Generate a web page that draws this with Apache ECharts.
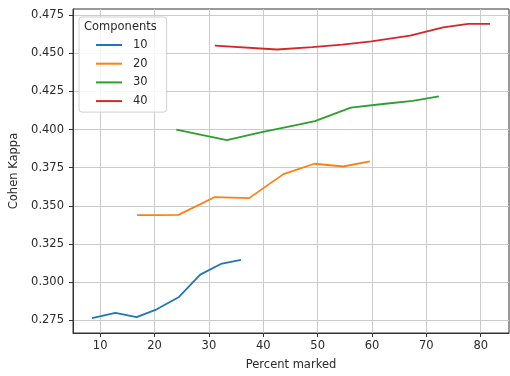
<!DOCTYPE html>
<html>
<head>
<meta charset="utf-8">
<script src="https://cdn.jsdelivr.net/npm/echarts@6/dist/echarts.min.js"></script>
<style>
  html, body { margin: 0; padding: 0; background: #fff; }
  #chart { width: 510px; height: 376px; }
</style>
</head>
<body>
<div id="chart"></div>
<script>
// Kappa vs. share of marked items, one line per component count
const componentNames = ['10', '20', '30', '40'];
const lineColors = ['#1f77b4', '#ff7f0e', '#2ca02c', '#d62728'];

const pct10 = [8.5, 12.8, 16.7, 20.4, 24.5, 28.4, 32.2, 35.9];
const kappa10 = [0.2765, 0.2800, 0.2772, 0.2823, 0.2904, 0.3050, 0.3120, 0.3146];

const pct20 = [16.8, 20.5, 24.4, 31.1, 37.4, 43.7, 49.4, 54.7, 59.6];
const kappa20 = [0.3440, 0.3440, 0.3441, 0.3558, 0.3551, 0.3708, 0.3776, 0.3758, 0.3792];

const pct30 = [24.0, 33.3, 39.5, 45.8, 49.5, 56.1, 62.0, 67.5, 72.3];
const kappa30 = [0.4000, 0.3931, 0.3981, 0.4027, 0.4055, 0.4143, 0.4167, 0.4188, 0.4217];

const pct40 = [31.1, 42.5, 49.0, 54.5, 59.9, 67.0, 73.1, 77.7, 81.7];
const kappa40 = [0.4549, 0.4524, 0.4540, 0.4556, 0.4577, 0.4614, 0.4668, 0.4692, 0.4692];

const xTicks = [10, 20, 30, 40, 50, 60, 70, 80];
const yTicks = [0.275, 0.300, 0.325, 0.350, 0.375, 0.400, 0.425, 0.450, 0.475];

const pctSets = [pct10, pct20, pct30, pct40];
const kappaSets = [kappa10, kappa20, kappa30, kappa40];

const font = 'DejaVu Sans';
const textColor = '#2a2a2a';

const series = componentNames.map((name, i) => ({
  name: name,
  type: 'line',
  data: pctSets[i].map((x, j) => [x, kappaSets[i][j]]),
  showSymbol: false,
  symbol: 'none',
  smooth: false,
  lineStyle: { color: lineColors[i], width: 1.8 },
  itemStyle: { color: lineColors[i] },
  emphasis: { disabled: true },
  z: 3
}));

const chart = echarts.init(document.getElementById('chart'), null, { renderer: 'canvas' });
chart.setOption({
  animation: false,
  backgroundColor: '#fff',
  textStyle: { fontFamily: font },
  grid: {
    left: 73, top: 9, right: 1, bottom: 40,
    show: true, borderColor: '#333', borderWidth: 1, backgroundColor: 'transparent'
  },
  title: {
    text: 'Components',
    left: 84, top: 21,
    textStyle: { fontFamily: font, fontSize: 11.5, fontWeight: 'normal', color: textColor },
    padding: 0,
    z: 10
  },
  legend: {
    orient: 'vertical',
    left: 79, top: 17,
    padding: [21, 19, 4, 17],
    itemWidth: 26, itemHeight: 2, itemGap: 4.7,
    icon: 'rect',
    backgroundColor: 'rgba(255,255,255,0.85)',
    borderColor: '#d0d0d0', borderWidth: 1, borderRadius: 3,
    textStyle: { fontFamily: font, fontSize: 11.5, color: textColor, lineHeight: 14, padding: [0, 0, 0, 6] },
    data: componentNames,
    selectedMode: false,
    z: 5
  },
  xAxis: {
    type: 'value',
    min: 5.0, max: 85.2,
    name: 'Percent marked',
    nameLocation: 'middle', nameGap: 26,
    nameTextStyle: { fontFamily: font, fontSize: 11.5, color: textColor },
    axisLine: { show: true, onZero: false, lineStyle: { color: '#333', width: 1 } },
    axisTick: { show: true, length: 4, customValues: xTicks, lineStyle: { color: '#333' } },
    axisLabel: { customValues: xTicks, margin: 7, fontFamily: font, fontSize: 11.5, color: textColor },
    splitLine: { show: true, lineStyle: { color: '#cbcbcb', width: 1 } }
  },
  yAxis: {
    type: 'value',
    min: 0.2668, max: 0.4789,
    name: 'Cohen Kappa',
    nameLocation: 'middle', nameGap: 51,
    nameTextStyle: { fontFamily: font, fontSize: 11.5, color: textColor },
    axisLine: { show: true, onZero: false, lineStyle: { color: '#333', width: 1 } },
    axisTick: { show: true, length: 4, customValues: yTicks, lineStyle: { color: '#333' } },
    axisLabel: {
      customValues: yTicks, margin: 9, fontFamily: font, fontSize: 11.5, color: textColor,
      formatter: v => Number(v).toFixed(3)
    },
    splitLine: { show: true, lineStyle: { color: '#cbcbcb', width: 1 } }
  },
  series: series
});
</script>
</body>
</html>
